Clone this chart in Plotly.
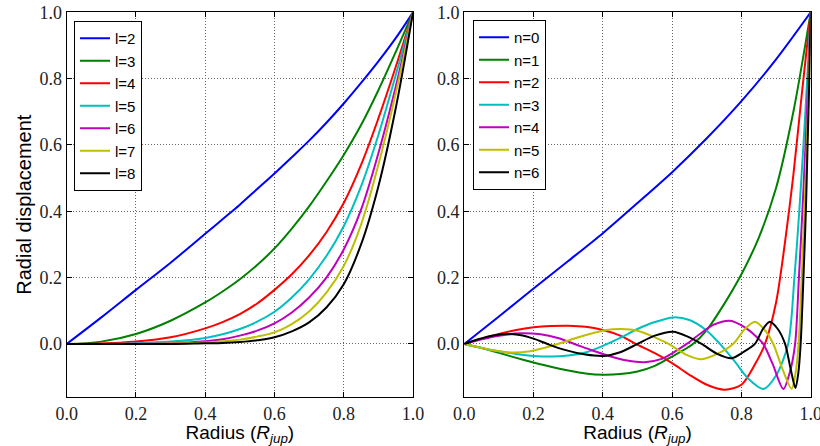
import plotly.graph_objects as go

# ---------------- data ----------------
# Left panel: radial displacement for degrees l = 2..8
l_labels = ["l=2", "l=3", "l=4", "l=5", "l=6", "l=7", "l=8"]
l_x = [0, 0.1, 0.2, 0.3, 0.4, 0.45, 0.5, 0.55, 0.6, 0.65, 0.7, 0.75, 0.8, 0.85, 0.9, 0.95, 1.0]
l2 = [0, 0.08, 0.163, 0.245, 0.332, 0.376, 0.42, 0.467, 0.514, 0.563, 0.613, 0.667, 0.725, 0.787, 0.852, 0.922, 1.0]
l3 = [0, 0.007, 0.03, 0.07, 0.125, 0.158, 0.195, 0.238, 0.288, 0.348, 0.415, 0.49, 0.57, 0.66, 0.765, 0.88, 1.0]
l4 = [0, 0.001, 0.007, 0.02, 0.047, 0.066, 0.09, 0.122, 0.163, 0.21, 0.267, 0.337, 0.425, 0.54, 0.68, 0.835, 1.0]
l5 = [0, 0.0, 0.002, 0.007, 0.018, 0.029, 0.045, 0.067, 0.097, 0.14, 0.195, 0.265, 0.355, 0.475, 0.63, 0.81, 1.0]
l6 = [0, 0.0, 0.0005, 0.002, 0.008, 0.014, 0.025, 0.04, 0.062, 0.095, 0.14, 0.2, 0.285, 0.405, 0.575, 0.775, 1.0]
l7 = [0, 0.0, 0.0, 0.001, 0.004, 0.008, 0.013, 0.022, 0.035, 0.06, 0.098, 0.155, 0.235, 0.36, 0.54, 0.755, 1.0]
l8 = [0, 0.0, 0.0, 0.0, 0.002, 0.003, 0.006, 0.011, 0.02, 0.038, 0.065, 0.11, 0.18, 0.3, 0.475, 0.71, 1.0]
l_series = [l2, l3, l4, l5, l6, l7, l8]

# Right panel: radial displacement for overtones n = 0..6
n_labels = ["n=0", "n=1", "n=2", "n=3", "n=4", "n=5", "n=6"]
n0_x = [0, 0.1, 0.2, 0.3, 0.4, 0.5, 0.6, 0.7, 0.8, 0.9, 1.0]
n0_y = [0, 0.083, 0.167, 0.25, 0.334, 0.425, 0.518, 0.62, 0.732, 0.858, 1.0]
n1_x = [0, 0.05, 0.1, 0.15, 0.2, 0.25, 0.3, 0.35, 0.4, 0.45, 0.5, 0.55, 0.6, 0.66, 0.7, 0.75, 0.8, 0.85, 0.9, 0.95, 1.0]
n1_y = [0, -0.012, -0.027, -0.042, -0.056, -0.069, -0.08, -0.089, -0.093, -0.091, -0.083, -0.066, -0.038, 0.0, 0.042, 0.12, 0.21, 0.32, 0.47, 0.7, 1.0]
n2_x = [0, 0.05, 0.1, 0.15, 0.2, 0.25, 0.3, 0.35, 0.4, 0.45, 0.495, 0.55, 0.6, 0.65, 0.7, 0.752, 0.8, 0.84, 0.868, 0.9, 0.925, 0.95, 0.975, 1.0]
n2_y = [0, 0.016, 0.03, 0.042, 0.05, 0.054, 0.055, 0.052, 0.042, 0.025, 0.0, -0.028, -0.058, -0.093, -0.123, -0.138, -0.123, -0.06, 0.0, 0.125, 0.3, 0.51, 0.76, 1.0]
n3_x = [0, 0.05, 0.1, 0.15, 0.2, 0.25, 0.3, 0.35, 0.4, 0.45, 0.5, 0.55, 0.603, 0.65, 0.7, 0.738, 0.78, 0.82, 0.863, 0.9, 0.935, 0.953, 0.967, 0.979, 0.99, 1.0]
n3_y = [0, -0.012, -0.022, -0.03, -0.036, -0.038, -0.035, -0.026, -0.006, 0.018, 0.045, 0.066, 0.08, 0.072, 0.04, 0.0, -0.052, -0.105, -0.136, -0.095, 0.0, 0.2, 0.4, 0.6, 0.8, 1.0]
n4_x = [0, 0.05, 0.1, 0.164, 0.22, 0.27, 0.318, 0.37, 0.42, 0.47, 0.52, 0.57, 0.61, 0.642, 0.68, 0.72, 0.767, 0.81, 0.84, 0.863, 0.89, 0.921, 0.94, 0.955, 0.966, 0.976, 0.985, 0.993, 1.0]
n4_y = [0, 0.014, 0.025, 0.032, 0.029, 0.018, 0.0, -0.02, -0.037, -0.05, -0.055, -0.045, -0.022, 0.0, 0.03, 0.058, 0.07, 0.05, 0.025, 0.0, -0.06, -0.136, -0.085, 0.0, 0.2, 0.4, 0.6, 0.8, 1.0]
n5_x = [0, 0.05, 0.1, 0.144, 0.19, 0.23, 0.27, 0.32, 0.37, 0.41, 0.452, 0.5, 0.55, 0.59, 0.64, 0.685, 0.73, 0.776, 0.81, 0.839, 0.865, 0.892, 0.92, 0.945, 0.956, 0.965, 0.974, 0.982, 0.989, 0.995, 1.0]
n5_y = [0, -0.012, -0.022, -0.026, -0.022, -0.012, 0.0, 0.017, 0.032, 0.042, 0.045, 0.04, 0.02, 0.0, -0.032, -0.046, -0.03, 0.0, 0.045, 0.067, 0.045, 0.0, -0.08, -0.135, -0.09, 0.0, 0.2, 0.4, 0.6, 0.8, 1.0]
n6_x = [0, 0.04, 0.08, 0.12, 0.16, 0.2, 0.24, 0.29, 0.35, 0.404, 0.45, 0.5, 0.55, 0.603, 0.645, 0.685, 0.73, 0.772, 0.805, 0.839, 0.862, 0.882, 0.905, 0.926, 0.942, 0.956, 0.964, 0.971, 0.979, 0.986, 0.991, 0.996, 1.0]
n6_y = [0, 0.014, 0.025, 0.03, 0.027, 0.016, 0.0, -0.018, -0.032, -0.036, -0.025, 0.0, 0.025, 0.037, 0.022, 0.0, -0.03, -0.043, -0.025, 0.0, 0.045, 0.067, 0.045, 0.0, -0.075, -0.133, -0.09, 0.0, 0.2, 0.4, 0.6, 0.8, 1.0]
n_series = [(n0_x, n0_y), (n1_x, n1_y), (n2_x, n2_y), (n3_x, n3_y),
            (n4_x, n4_y), (n5_x, n5_y), (n6_x, n6_y)]

tick_vals = [0.0, 0.2, 0.4, 0.6, 0.8, 1.0]
tick_text = ["0.0", "0.2", "0.4", "0.6", "0.8", "1.0"]

colors = ["#0000ff", "#008000", "#ff0000", "#00bfbf", "#bf00bf", "#bfbf00", "#000000"]

# ---------------- figure ----------------
fig = go.Figure()
for name, ys, c in zip(l_labels, l_series, colors):
    fig.add_trace(go.Scatter(x=l_x, y=ys, mode="lines", name=name,
                             line=dict(color=c, width=2, shape="spline", smoothing=1.0),
                             xaxis="x", yaxis="y", legend="legend"))
for name, (xs, ys), c in zip(n_labels, n_series, colors):
    fig.add_trace(go.Scatter(x=xs, y=ys, mode="lines", name=name,
                             line=dict(color=c, width=2, shape="spline", smoothing=0.8),
                             xaxis="x2", yaxis="y2", legend="legend2"))

W, H = 820, 446
tickfont = dict(family="Liberation Serif, serif", size=18, color="#222222")
axis_common = dict(range=[0, 1.0], tickvals=tick_vals, ticktext=tick_text,
                   showline=True, linecolor="black", linewidth=1.2, mirror="allticks",
                   ticks="inside", ticklen=5, tickcolor="black", tickwidth=1,
                   showgrid=True, gridcolor="#666666", griddash="1px,2px", gridwidth=0.8,
                   zeroline=False, tickfont=tickfont, automargin=False,
                   ticklabeloverflow="allow")
yaxis_common = dict(axis_common)
yaxis_common["range"] = [-0.16, 1.0]

title_x = "Radius (<i>R</i><sub><i>jup</i></sub>)"
sans = "Liberation Sans, Arial, sans-serif"
title_font_x = dict(family=sans, size=19, color="black")
title_font_y = dict(family=sans, size=20, color="black")

y_dom = [(H - 397) / H, (H - 12.3) / H]
legend_common = dict(xanchor="left", yanchor="top", bordercolor="black", borderwidth=1,
                     bgcolor="white", font=dict(family=sans, size=15, color="black"))
fig.update_layout(
    width=W, height=H,
    margin=dict(l=0, r=0, t=0, b=0),
    plot_bgcolor="white", paper_bgcolor="white",
    xaxis=dict(axis_common, domain=[66.7 / W, 413 / W], anchor="y",
               title=dict(text=title_x, font=title_font_x, standoff=0)),
    yaxis=dict(yaxis_common, domain=y_dom, anchor="x",
               title=dict(text="Radial displacement", font=title_font_y, standoff=2)),
    xaxis2=dict(axis_common, domain=[464.3 / W, 810.7 / W], anchor="y2",
                title=dict(text=title_x, font=title_font_x, standoff=0)),
    yaxis2=dict(yaxis_common, domain=y_dom, anchor="x2"),
    legend=dict(legend_common, x=74 / W, y=1 - 21 / H),
    legend2=dict(legend_common, x=473 / W, y=1 - 20 / H),
)

fig.write_html("out.html", config={"displayModeBar": False},
               post_script="document.body.style.margin='0';document.body.style.overflow='hidden';")
